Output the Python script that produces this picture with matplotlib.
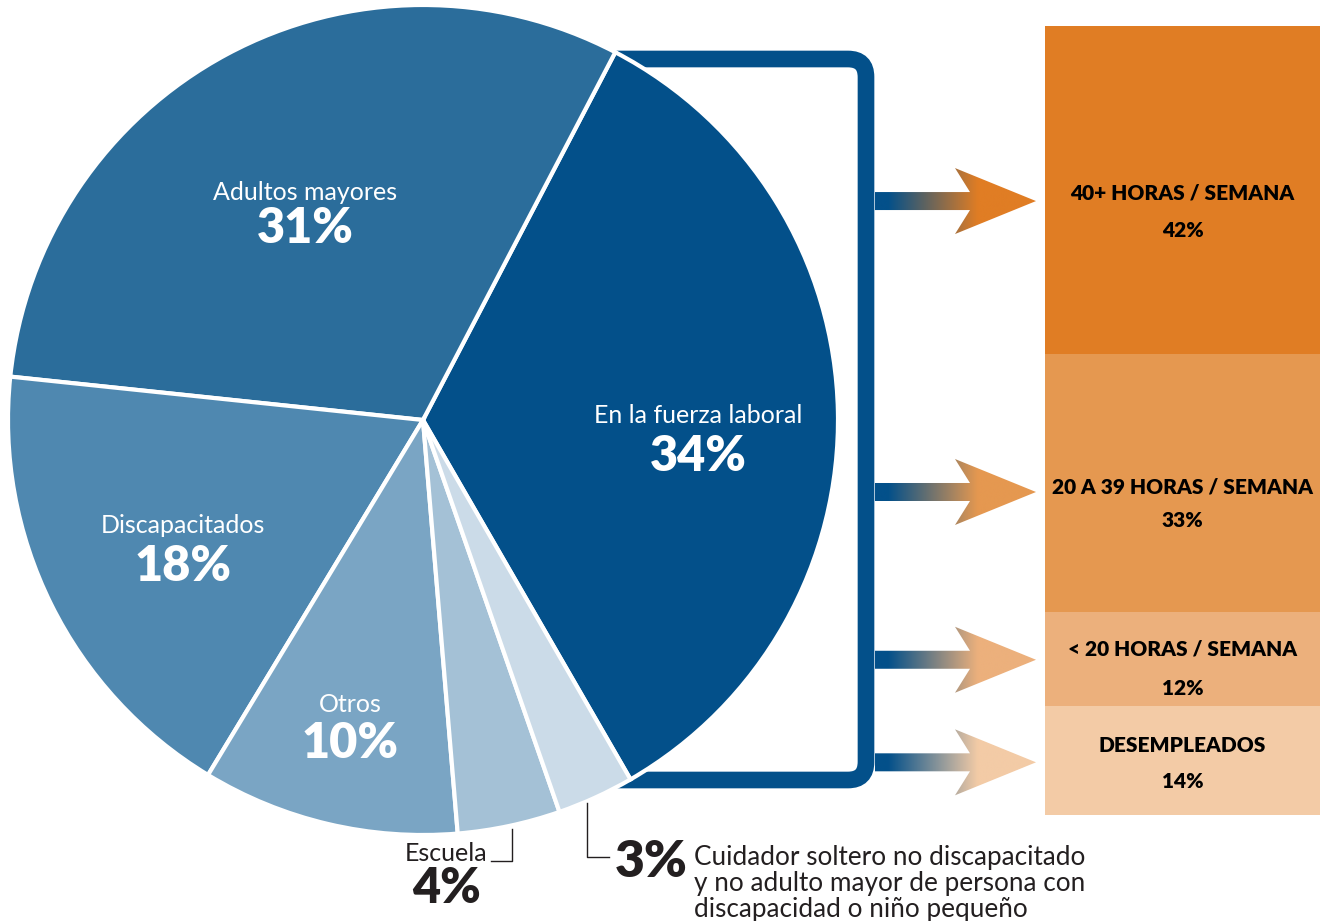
import numpy as np
import matplotlib.pyplot as plt
from matplotlib.path import Path
from matplotlib.patches import PathPatch, Polygon
from matplotlib.colors import to_rgb

plt.rcParams['font.family'] = ['Lato', 'DejaVu Sans']

# share of caregivers by main situation (pie)
pie_labels = ['En la fuerza laboral', 'Adultos mayores', 'Discapacitados',
              'Otros', 'Escuela', '']
pie_values = [34, 31, 18, 10, 4, 3]
pie_colors = ['#03508a', '#2b6d9b', '#4f88b0', '#7aa5c4', '#a4c1d6', '#cbdbe8']

# breakdown of those in the labour force (stacked bar)
work_labels = ['40+ HORAS / SEMANA', '20 A 39 HORAS / SEMANA',
               '< 20 HORAS / SEMANA', 'DESEMPLEADOS']
work_values = [42, 33, 12, 14]
work_colors = ['#e07d24', '#e59850', '#ecb07c', '#f3cba6']

other_note = ['Cuidador soltero no discapacitado',
              'y no adulto mayor de persona con',
              'discapacidad o niño pequeño']

dark = '#231f20'
blue = '#03508a'
label_size = 18
pct_size = 35

fig = plt.figure(figsize=(13.2, 9.21), dpi=100)
ax = fig.add_axes([0, 0, 1, 1])

# pie in pixel-like coordinates (y axis runs downward)
wedges, _ = ax.pie(pie_values, colors=pie_colors, center=(423, 420), radius=415,
                   startangle=60, counterclock=False,
                   wedgeprops=dict(edgecolor='white', linewidth=3))
for w in wedges:
    w.set_zorder(3)
ax.set_xlim(0, 1320)
ax.set_ylim(921, 0)
ax.set_aspect('auto')
ax.axis('off')

# labels inside the pie
inside = [(698, 423, 471), (305, 200, 243), (183, 533, 581), (350, 712, 758)]
for (x, yl, yv), name, val in zip(inside, pie_labels, pie_values):
    ax.text(x, yl, name, color='white', fontsize=label_size,
            ha='center', va='baseline', zorder=5)
    ax.text(x, yv, f'{val}%', color='white', fontsize=pct_size,
            fontweight='heavy', ha='center', va='baseline', zorder=5)

# Escuela label below the pie with its leader
ax.plot([512, 512, 491], [829, 861, 861], color=dark, lw=1, zorder=4)
ax.text(487, 861, pie_labels[4], color=dark, fontsize=label_size,
        ha='right', va='baseline')
ax.text(447, 903, f'{pie_values[4]}%', color=dark, fontsize=pct_size,
        fontweight='heavy', ha='center', va='baseline')

# small slice note
ax.plot([587, 587, 609], [803, 857, 857], color=dark, lw=1, zorder=4)
ax.text(651, 877, f'{pie_values[5]}%', color=dark, fontsize=37,
        fontweight='heavy', ha='center', va='baseline')
for i, line in enumerate(other_note):
    ax.text(694, 865 + 26 * i, line, color=dark, fontsize=18.8,
            ha='left', va='baseline')

# bracket around the labour-force slice
r = 18
verts = [(600, 59), (866 - r, 59), (866, 59), (866, 59 + r),
         (866, 780 - r), (866, 780), (866 - r, 780), (600, 780)]
codes = [Path.MOVETO, Path.LINETO, Path.CURVE3, Path.CURVE3,
         Path.LINETO, Path.CURVE3, Path.CURVE3, Path.LINETO]
ax.add_patch(PathPatch(Path(verts, codes), fill=False, edgecolor=blue,
                       lw=12, capstyle='butt', joinstyle='miter', zorder=2))

# stacked bar on the right
bx = fig.add_axes([1045 / 1320, (921 - 815) / 921, 275 / 1320, (815 - 26) / 921])
bottoms = np.concatenate([[0], np.cumsum(work_values)[:-1]])
bx.bar(0, work_values, bottom=bottoms, width=1, color=work_colors, linewidth=0)
bx.set_xlim(-0.5, 0.5)
bx.set_ylim(sum(work_values), 0)
bx.axis('off')

name_off = [9, 11, -3, -8]
value_off = [47, 44, 36, 28]
for b, v, name, n_off, v_off in zip(bottoms, work_values, work_labels,
                                     name_off, value_off):
    mid = b + v / 2
    bx.annotate(name, (0, mid), xytext=(0, -n_off), textcoords='offset pixels',
                ha='center', va='baseline', fontsize=15, fontweight='heavy',
                color='black')
    bx.annotate(f'{v}%', (0, mid), xytext=(0, -v_off), textcoords='offset pixels',
                ha='center', va='baseline', fontsize=15, fontweight='heavy',
                color='black')

# gradient arrows from the bracket to each bar segment
arrow_shift = [11, 9, 1, 2]
xs = np.linspace(875, 1036, 400)
t = np.clip((xs - 888) / (978 - 888), 0, 1)[:, None]
for b, v, col, s in zip(bottoms, work_values, work_colors, arrow_shift):
    disp = bx.transData.transform((0, b + v / 2))
    c = ax.transData.inverted().transform(disp)[1] + s
    pts = [(875, c - 9), (970, c - 9), (955, c - 33), (1036, c),
           (955, c + 33), (970, c + 9), (875, c + 9)]
    poly = Polygon(pts, closed=True, facecolor='none', edgecolor='none')
    ax.add_patch(poly)
    grad = (1 - t) * np.array(to_rgb(blue)) + t * np.array(to_rgb(col))
    im = ax.imshow(grad[None, :, :], extent=(875, 1036, c + 34, c - 34),
                   aspect='auto', interpolation='bilinear', zorder=2)
    im.set_clip_path(poly)

ax.set_xlim(0, 1320)
ax.set_ylim(921, 0)

fig.savefig('out.png', dpi=100)
